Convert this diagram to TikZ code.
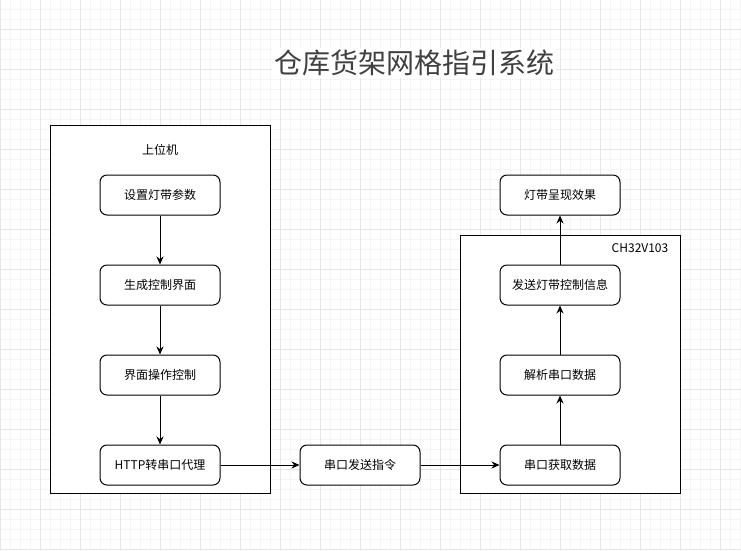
\documentclass[tikz,border=0pt]{standalone}
\usepackage{fontspec}
\setmainfont{Noto Sans CJK SC}
\usetikzlibrary{arrows.meta}

\definecolor{gridminor}{HTML}{F5F5F5}
\definecolor{gridmajor}{HTML}{E6E6E6}
\definecolor{titlegray}{HTML}{404040}

\tikzset{
  box/.style={draw=black, line width=1pt, rounded corners=7pt, fill=white,
    minimum width=120pt, minimum height=40pt, inner sep=0pt, font=\fontsize{12pt}{14pt}\selectfont},
  frame/.style={draw=black, line width=1pt, fill=white},
  flow/.style={line width=1pt, -{Stealth[length=8pt, width=7pt]}}
}

\begin{document}
\begin{tikzpicture}[x=1pt, y=-1pt]
  % background and grid
  \fill[white] (0,0) rectangle (741,550);
  \useasboundingbox (0,0) rectangle (741,550);
  \foreach \x in {0,10,...,740} \draw[gridminor, line width=0.8pt] (\x,0) -- (\x,550);
  \foreach \y in {-1,9,...,549} \draw[gridminor, line width=0.8pt] (0,\y) -- (741,\y);
  \foreach \x in {0,40,...,740} \draw[gridmajor, line width=1pt] (\x,0) -- (\x,550);
  \foreach \y in {29,69,...,549} \draw[gridmajor, line width=1pt] (0,\y) -- (741,\y);

  % title
  \node[fill=white, text=titlegray, inner sep=2pt, font=\fontsize{28pt}{32pt}\selectfont] (title) at (414,63) {仓库货架网格指引系统};

  % containers
  \draw[frame] (50,125) rectangle (270,493);
  \node[font=\fontsize{12pt}{14pt}\selectfont] (host) at (160,150) {上位机};
  \draw[frame] (460,235) rectangle (680,493);
  \node[font=\fontsize{12pt}{14pt}\selectfont] (mcu) at (640,248) {CH32V103};

  % left column
  \node[box] (setp) at (160,195) {设置灯带参数};
  \node[box] (genui) at (160,285) {生成控制界面};
  \node[box] (uiop) at (160,375) {界面操作控制};
  \node[box] (proxy) at (160,465) {HTTP转串口代理};

  % middle
  \node[box] (sendcmd) at (360,465) {串口发送指令};

  % right column
  \node[box] (recv) at (560,465) {串口获取数据};
  \node[box] (parse) at (560,375) {解析串口数据};
  \node[box] (sendled) at (560,285) {发送灯带控制信息};
  \node[box] (effect) at (560,195) {灯带呈现效果};

  % connectors
  \draw[flow] (setp) -- (genui);
  \draw[flow] (genui) -- (uiop);
  \draw[flow] (uiop) -- (proxy);
  \draw[flow] (proxy) -- (sendcmd);
  \draw[flow] (sendcmd) -- (recv);
  \draw[flow] (recv) -- (parse);
  \draw[flow] (parse) -- (sendled);
  \draw[flow] (sendled) -- (effect);
\end{tikzpicture}
\end{document}
